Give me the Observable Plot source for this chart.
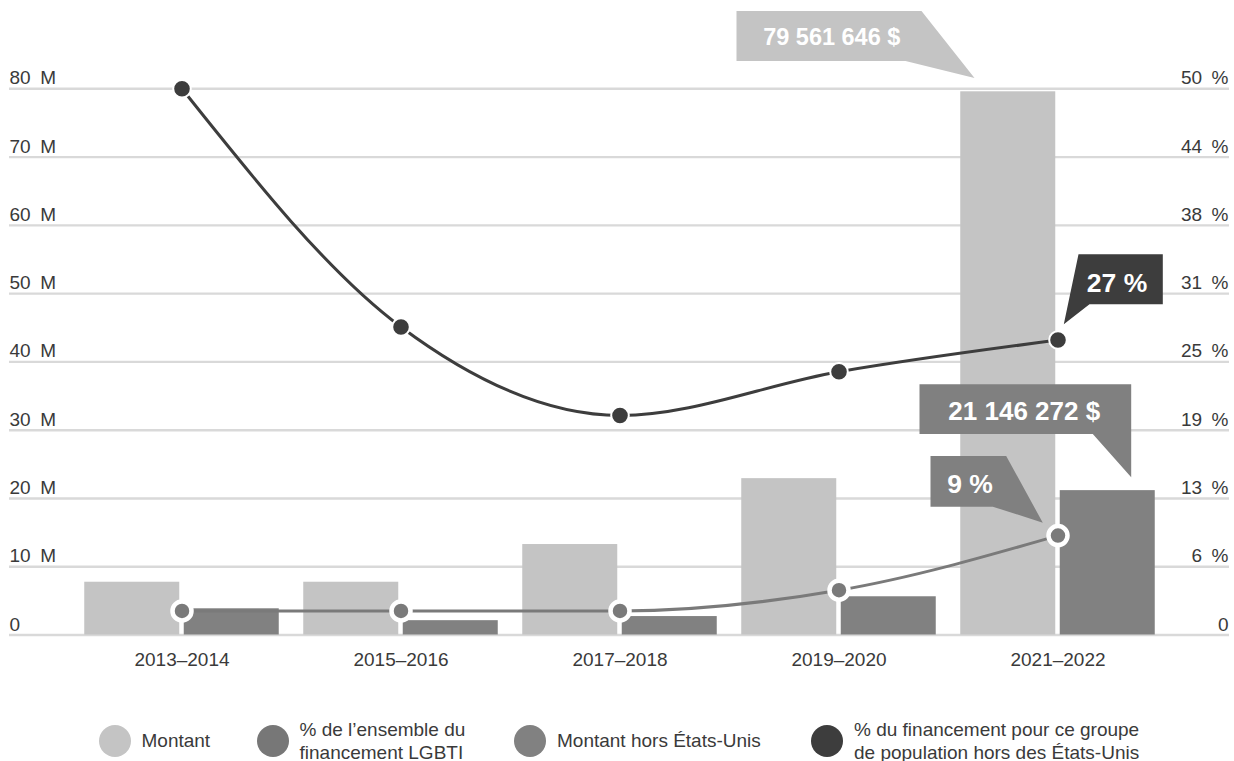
<!DOCTYPE html>
<html>
<head>
<meta charset="utf-8">
<script src="https://cdn.jsdelivr.net/npm/d3@7"></script>
<script src="https://cdn.jsdelivr.net/npm/@observablehq/plot@0.6"></script>
<style>
  body { margin: 0; background: #fff; font-family: "Liberation Sans", Arial, sans-serif; }
  #chart svg { display: block; }
  #legend { position: relative; width: 1234px; height: 61px; }
  .item { position: absolute; top: 10px; height: 61px; display: flex; align-items: center; color: #3a3a3a; font-size: 19px; line-height: 23px; }
  .dot { width: 32px; height: 32px; border-radius: 50%; margin-right: 11px; flex: none; }
</style>
</head>
<body>
<div id="chart"></div>
<div id="legend"></div>
<script>
// ---- Data ----
const periods = ["2013–2014", "2015–2016", "2017–2018", "2019–2020", "2021–2022"];
const montant = [7.73e6, 7.73e6, 13.25e6, 22.9e6, 79561646];
const montantHorsEU = [3.84e6, 2.1e6, 2.7e6, 5.6e6, 21146272];
const pctEnsembleLGBTI = [2.2, 2.2, 2.2, 4.1, 9.1];
const pctPopHorsEU = [50, 28.2, 20.1, 24.1, 27.0];

const leftTicks = [0, 10e6, 20e6, 30e6, 40e6, 50e6, 60e6, 70e6, 80e6];
const leftTickLabels = ["0", "10\u2002M", "20\u2002M", "30\u2002M", "40\u2002M", "50\u2002M", "60\u2002M", "70\u2002M", "80\u2002M"];
const rightTickLabels = ["0", "6\u2002%", "13\u2002%", "19\u2002%", "25\u2002%", "31\u2002%", "38\u2002%", "44\u2002%", "50\u2002%"];

const legendLabels = ["Montant", "% de l’ensemble du<br>financement LGBTI", "Montant hors États-Unis", "% du financement pour ce groupe<br>de population hors des États-Unis"];
const legendColors = ["#c4c4c4", "#777777", "#818181", "#3d3d3d"];

const calloutLabels = ["79 561 646 $", "27 %", "21 146 272 $", "9 %"];

// ---- Derived ----
const yMax = 80e6, pctMax = 50;
const pctToY = v => v / pctMax * yMax;
const rows = periods.map((p, i) => ({
  period: p, montant: montant[i], hors: montantHorsEU[i],
  pctL: pctEnsembleLGBTI[i], pctP: pctPopHorsEU[i]
}));
const last = periods.length - 1;

const calloutSpecs = [
  {period: periods[last], shift: -49.75, yv: montant[last], label: calloutLabels[0], fill: "#c4c4c4", size: 23.5,
   shape: [[-271.25,-80.3],[-86.25,-80.3],[-33.25,-13.3],[-102.25,-30.3],[-271.25,-30.3]], tx: -176, ty: -54.3},
  {period: periods[last], shift: 0, yv: pctToY(pctPopHorsEU[last]), label: calloutLabels[1], fill: "#3d3d3d", size: 26.5,
   shape: [[21,-85.3],[105.3,-85.3],[105.3,-35.3],[32,-35.3],[6.3,-15.3]], tx: 59.5, ty: -57.1},
  {period: periods[last], shift: 49.75, yv: montantHorsEU[last], label: calloutLabels[2], fill: "#808080", size: 26,
   shape: [[-187.75,-105.8],[23.95,-105.8],[23.95,-12.8],[-14.45,-56.1],[-187.75,-56.1]], tx: -83, ty: -79.6},
  {period: periods[last], shift: 0, yv: pctToY(pctEnsembleLGBTI[last]), label: calloutLabels[3], fill: "#808080", size: 26.5,
   shape: [[-127,-79.1],[-51.3,-79.1],[-14.7,-12.4],[-64.7,-28.4],[-127,-28.4]], tx: -87.5, ty: -52.1}
];

function callouts(index, scales) {
  const g = d3.create("svg:g");
  const xs = scales.x, ys = scales.y;
  const bw = typeof xs.bandwidth === "function" ? xs.bandwidth() : 0;
  for (const s of calloutSpecs) {
    const ax = xs(s.period) + bw / 2 + s.shift;
    const ay = ys(s.yv);
    g.append("path")
      .attr("d", "M" + s.shape.map(([dx, dy]) => (ax + dx) + "," + (ay + dy)).join("L") + "Z")
      .attr("fill", s.fill);
    g.append("text")
      .attr("x", ax + s.tx).attr("y", ay + s.ty)
      .attr("dy", "0.36em")
      .attr("text-anchor", "middle")
      .attr("fill", "#ffffff")
      .attr("font-weight", "bold")
      .attr("font-size", s.size)
      .attr("font-family", "'Liberation Sans', Arial, sans-serif")
      .text(s.label);
  }
  return g.node();
}

const chart = Plot.plot({
  width: 1234,
  height: 700,
  marginLeft: 9,
  marginRight: 5,
  marginTop: 88.3,
  marginBottom: 65.5,
  style: {fontFamily: "'Liberation Sans', Arial, sans-serif", fontSize: "19px", color: "#3a3a3a", background: "#fff"},
  x: {type: "band", domain: periods, padding: 0, insetLeft: 61.25, insetRight: 61.25, axis: null},
  y: {domain: [0, yMax], axis: null},
  marks: [
    Plot.ruleY(leftTicks, {y: d => d, stroke: "#d9d9d9", strokeWidth: 2.4}),
    Plot.text(leftTicks, {y: d => d, text: (d, i) => leftTickLabels[i], frameAnchor: "left", textAnchor: "start", lineAnchor: "bottom", dy: -4.5, fill: "#3a3a3a", fontSize: 19}),
    Plot.text(leftTicks, {y: d => d, text: (d, i) => rightTickLabels[i], frameAnchor: "right", textAnchor: "end", lineAnchor: "bottom", dx: -1, dy: -4.5, fill: "#3a3a3a", fontSize: 19}),
    Plot.text(periods, {x: d => d, text: d => d, frameAnchor: "bottom", lineAnchor: "top", dy: 17, fill: "#3a3a3a", fontSize: 19}),
    Plot.barY(rows, {x: "period", y: "montant", fill: "#c4c4c4", insetLeft: 12.25, insetRight: 111.75}),
    Plot.barY(rows, {x: "period", y: "hors", fill: "#818181", insetLeft: 111.75, insetRight: 12.25}),
    Plot.line(rows, {x: "period", y: d => pctToY(d.pctP), curve: "monotone-x", stroke: "#3d3d3d", strokeWidth: 3}),
    Plot.line(rows, {x: "period", y: d => pctToY(d.pctL), curve: "monotone-x", stroke: "#7a7a7a", strokeWidth: 3}),
    Plot.dot(rows, {x: "period", y: d => pctToY(d.pctP), r: 8.8, fill: "#3d3d3d", stroke: "#ffffff", strokeWidth: 2}),
    Plot.dot(rows, {x: "period", y: d => pctToY(d.pctL), r: 9.5, fill: "#7a7a7a", stroke: "#ffffff", strokeWidth: 4.5}),
    callouts
  ]
});
document.getElementById("chart").appendChild(chart);

// ---- Legend ----
const legendLeft = [98.5, 256.5, 514, 811];
const legend = document.getElementById("legend");
legendLabels.forEach((lab, i) => {
  const item = document.createElement("div");
  item.className = "item";
  item.style.left = legendLeft[i] + "px";
  item.style.top = "10px";
  item.style.height = "61px";
  item.style.transform = "translateY(-0px)";
  const dot = document.createElement("span");
  dot.className = "dot";
  dot.style.background = legendColors[i];
  const txt = document.createElement("span");
  txt.innerHTML = lab;
  item.appendChild(dot);
  item.appendChild(txt);
  legend.appendChild(item);
});
</script>
</body>
</html>
